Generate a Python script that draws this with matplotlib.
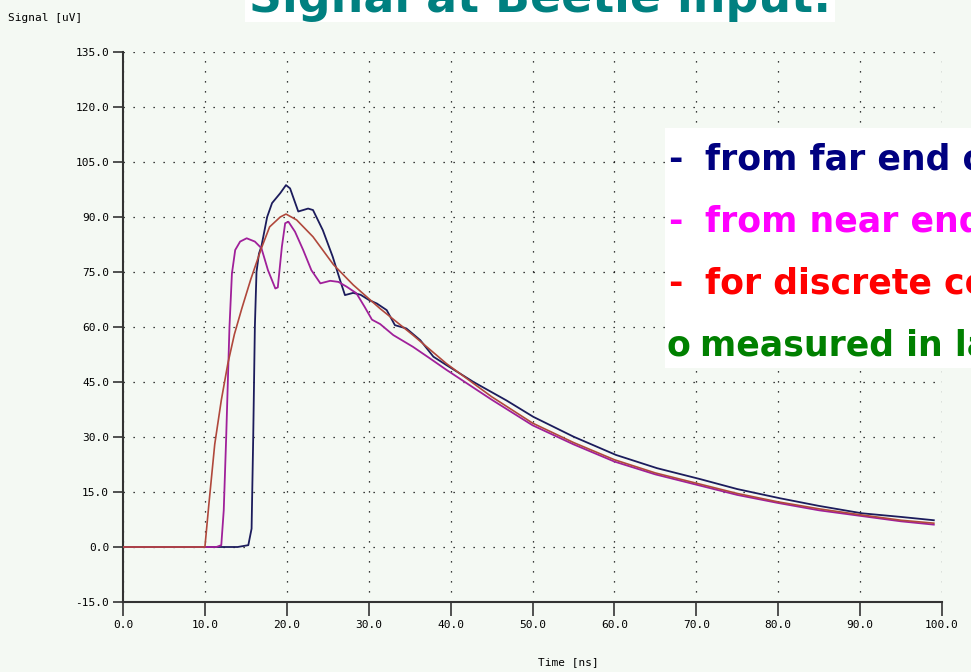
import matplotlib
matplotlib.use("Agg")
import matplotlib.pyplot as plt
from matplotlib.patches import Rectangle

# signal shapes at the Beetle input (time in ns, signal in uV)
t_far = [0, 14.0, 15.3, 15.7, 15.9, 16.1, 16.3, 16.6, 16.9, 17.6, 18.2, 19.2, 19.9,
         20.4, 21.4, 22.6, 23.2, 24.4, 25.6, 26.5, 27.1, 28.1, 29.0, 30.0, 31.0,
         32.2, 33.2, 34.6, 36.3, 37.9, 39.5, 42.8, 46.8, 50.1, 55.0, 60.2, 65.2,
         70.5, 75.0, 80.2, 85.0, 90.2, 95.0, 99.0]
y_far = [0, 0, 0.5, 5, 30, 60, 75, 80, 82, 90, 93.8, 96.5, 98.7,
         97.8, 91.5, 92.3, 91.9, 86.4, 79.2, 72.8, 68.7, 69.3, 68.8, 67.4, 66.4,
         64.6, 60.5, 59.6, 56.4, 51.9, 49.6, 45.0, 40.0, 35.5, 30.1, 25.1, 21.5,
         18.5, 15.8, 13.3, 11.2, 9.2, 8.2, 7.3]

t_near = [0, 11.4, 12.0, 12.3, 12.6, 13.0, 13.3, 13.7, 14.3, 15.1, 16.1, 16.9,
          17.7, 18.6, 18.9, 19.4, 19.8, 20.2, 21.0, 22.0, 23.0, 24.1, 25.3, 26.3,
          27.3, 28.5, 29.5, 30.4, 31.4, 33.0, 35.4, 37.5, 39.5, 45, 50, 55, 60,
          65, 70, 75, 80, 85, 90, 95, 99]
y_near = [0, 0, 0.5, 10, 30, 60, 74.6, 81, 83.3, 84.2, 83.3, 81.5,
          75.5, 70.5, 70.8, 81.9, 88.3, 88.7, 86, 81, 75.5, 71.9, 72.6, 72.3,
          71, 69.2, 65.5, 62.0, 60.8, 57.8, 54.6, 51.4, 48.3, 40.2, 33.2, 28.0, 23.3,
          19.8, 17.0, 14.2, 12.0, 10.0, 8.5, 7.0, 6.1]

t_disc = [0, 10.0, 10.5, 11.2, 12.0, 12.8, 13.6, 14.5, 15.6, 16.9, 17.9, 19.2,
          19.9, 21.2, 23.2, 25.7, 28.1, 31.4, 35.4, 39.5, 45, 50, 55, 60, 65, 70,
          75, 80, 85, 90, 95, 99]
y_disc = [0, 0, 12, 28, 40, 50, 58, 65, 73, 81.5, 87.3, 90,
          90.8, 89.2, 84.6, 77.0, 71.5, 65.0, 57.8, 50.0, 41.0, 33.8, 28.5, 23.8,
          20.2, 17.4, 14.6, 12.3, 10.4, 8.8, 7.3, 6.5]

x_ticks = [0, 10, 20, 30, 40, 50, 60, 70, 80, 90, 100]
y_ticks = [-15, 0, 15, 30, 45, 60, 75, 90, 105, 120, 135]

note_marks = ["-", "-", "-", "o"]
notes = ["from far end of strip", "from near end of strip",
         "for discrete components", "measured in lab"]
note_colors = ["#000080", "#ff00ff", "#ff0000", "#008000"]

W, H = 971, 672
bg = "#f4f9f3"
mono = "DejaVu Sans Mono"

fig = plt.figure(figsize=(W / 100, H / 100), dpi=100, facecolor=bg)
ax = fig.add_axes([123 / W, 70 / H, (942 - 123) / W, (602 - 52) / H], facecolor=bg)

ax.plot(t_far, y_far, color="#1c1c5c", lw=1.3, zorder=3)
ax.plot(t_near, y_near, color="#a0209a", lw=1.3, zorder=3)
ax.plot(t_disc, y_disc, color="#b0483c", lw=1.2, zorder=3)

ax.set_xlim(0, 100)
ax.set_ylim(-15, 135)
ax.set_xticks(x_ticks)
ax.set_yticks(y_ticks)
ax.set_xticklabels([f"{v:.1f}" for v in x_ticks], fontfamily=mono, fontsize=8)
ax.set_yticklabels([f"{v:.1f}" for v in y_ticks], fontfamily=mono, fontsize=8)
ax.tick_params(direction="out", length=7, width=1.2, color="#333333", pad=3)
ax.tick_params(axis="x", length=10)

for s in ["top", "right"]:
    ax.spines[s].set_visible(False)
for s in ["left", "bottom"]:
    ax.spines[s].set_color("#333333")
    ax.spines[s].set_linewidth(1.5)

ax.grid(True, color="black", lw=0.9, linestyle=(0, (1, 7)))
ax.set_axisbelow(True)

fig.text(8 / W, 1 - 18 / H, "Signal [uV]", fontfamily=mono, fontsize=8,
         ha="left", va="center")
fig.text(568 / W, 1 - 662 / H, "Time [ns]", fontfamily=mono, fontsize=8,
         ha="center", va="center")

# title box, partly above the top edge
fig.patches.append(Rectangle((245 / W, 1 - 22 / H), 590 / W, 22 / H,
                             transform=fig.transFigure, facecolor="white",
                             edgecolor="none", zorder=5))
fig.text(540 / W, 1 - 12 / H, "Signal at Beetle input:", color="#008080",
         fontsize=33, fontweight="bold", ha="center", va="baseline", zorder=6)

# annotation box on the right
fig.patches.append(Rectangle((665 / W, 1 - 368 / H), (W - 665) / W, 240 / H,
                             transform=fig.transFigure, facecolor="white",
                             edgecolor="none", zorder=5))
for i, (mark, txt, c) in enumerate(zip(note_marks, notes, note_colors)):
    y = 1 - (170 + 62 * i) / H
    fig.text((668 if mark == "-" else 666) / W, y, mark, color=c, fontsize=25,
             fontweight="bold", ha="left", va="baseline", zorder=6)
    fig.text((705 if mark == "-" else 700) / W, y, txt, color=c, fontsize=25,
             fontweight="bold", ha="left", va="baseline", zorder=6)

fig.savefig("out.png", dpi=100, facecolor=bg)
